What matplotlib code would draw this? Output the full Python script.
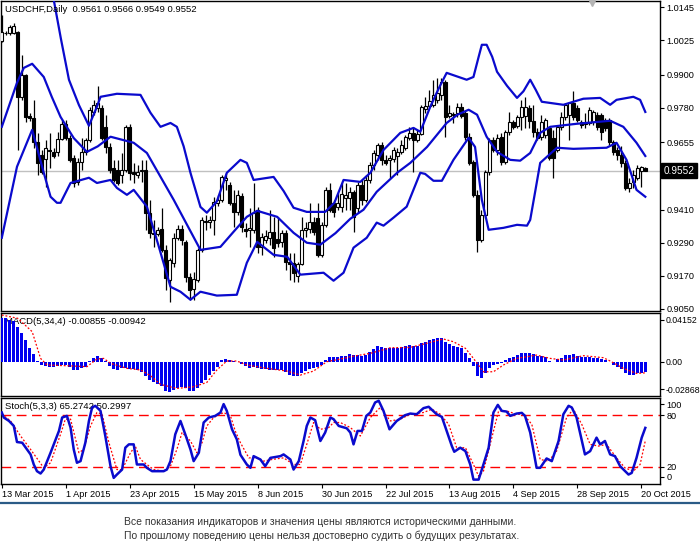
import matplotlib
matplotlib.use('Agg')
import matplotlib.pyplot as plt
import matplotlib.transforms as mtransforms
from matplotlib.lines import Line2D

plt.rcParams['font.family'] = ['Liberation Sans', 'DejaVu Sans']

# daily candles, USDCHF, 162 bars (mid Mar .. 21 Oct 2015)
opens = [1.0023, 1.0052, 1.0052, 1.0052, 1.0056, 0.9820, 0.9900, 0.9751, 0.9744, 0.9657,
         0.9609, 0.9594, 0.9627, 0.9620, 0.9620, 0.9667, 0.9721, 0.9671, 0.9598, 0.9511,
         0.9584, 0.9620, 0.9664, 0.9765, 0.9780, 0.9780, 0.9711, 0.9638, 0.9562, 0.9555,
         0.9537, 0.9555, 0.9711, 0.9548, 0.9537, 0.9551, 0.9555, 0.9399, 0.9326, 0.9322,
         0.9341, 0.9264, 0.9156, 0.9217, 0.9308, 0.9341, 0.9293, 0.9166, 0.9123, 0.9156,
         0.9264, 0.9370, 0.9366, 0.9373, 0.9435, 0.9446, 0.9518, 0.9500, 0.9435, 0.9402,
         0.9460, 0.9341, 0.9337, 0.9337, 0.9410, 0.9275, 0.9301, 0.9308, 0.9330, 0.9304,
         0.9293, 0.9326, 0.9221, 0.9217, 0.9170, 0.9213, 0.9337, 0.9341, 0.9366, 0.9381,
         0.9246, 0.9355, 0.9482, 0.9435, 0.9421, 0.9421, 0.9453, 0.9453, 0.9475, 0.9417,
         0.9500, 0.9446, 0.9518, 0.9573, 0.9609, 0.9646, 0.9591, 0.9591, 0.9594, 0.9605,
         0.9620, 0.9634, 0.9671, 0.9689, 0.9664, 0.9686, 0.9776, 0.9787, 0.9791, 0.9809,
         0.9827, 0.9875, 0.9751, 0.9758, 0.9762, 0.9784, 0.9762, 0.9675, 0.9584, 0.9464,
         0.9301, 0.9392, 0.9548, 0.9664, 0.9627, 0.9675, 0.9584, 0.9693, 0.9729, 0.9715,
         0.9747, 0.9751, 0.9780, 0.9733, 0.9693, 0.9675, 0.9682, 0.9707, 0.9671, 0.9627,
         0.9711, 0.9747, 0.9755, 0.9798, 0.9780, 0.9729, 0.9722, 0.9725, 0.9729, 0.9755,
         0.9755, 0.9736, 0.9736, 0.9657, 0.9627, 0.9609, 0.9580, 0.9489, 0.9511, 0.9526,
         0.9551, 0.9561]
highs = [1.0118, 1.0059, 1.0081, 1.0089, 1.0059, 0.9972, 0.9903, 0.9762, 0.9809, 0.9689,
         0.9627, 0.9664, 0.9689, 0.9634, 0.9693, 0.9736, 0.9736, 0.9682, 0.9609, 0.9598,
         0.9671, 0.9671, 0.9784, 0.9809, 0.9860, 0.9791, 0.9755, 0.9653, 0.9591, 0.9591,
         0.9616, 0.9718, 0.9722, 0.9580, 0.9573, 0.9591, 0.9591, 0.9446, 0.9373, 0.9348,
         0.9417, 0.9282, 0.9235, 0.9326, 0.9355, 0.9355, 0.9301, 0.9181, 0.9185, 0.9272,
         0.9384, 0.9392, 0.9388, 0.9457, 0.9464, 0.9537, 0.9544, 0.9511, 0.9482, 0.9482,
         0.9471, 0.9362, 0.9417, 0.9507, 0.9421, 0.9326, 0.9337, 0.9410, 0.9384, 0.9384,
         0.9337, 0.9337, 0.9253, 0.9253, 0.9221, 0.9384, 0.9366, 0.9435, 0.9384, 0.9435,
         0.9366, 0.9493, 0.9507, 0.9446, 0.9471, 0.9507, 0.9507, 0.9493, 0.9482, 0.9511,
         0.9518, 0.9537, 0.9584, 0.9627, 0.9653, 0.9657, 0.9609, 0.9609, 0.9638, 0.9634,
         0.9664, 0.9682, 0.9711, 0.9711, 0.9700, 0.9791, 0.9820, 0.9845, 0.9882, 0.9889,
         0.9889, 0.9882, 0.9791, 0.9765, 0.9798, 0.9798, 0.9773, 0.9689, 0.9591, 0.9482,
         0.9410, 0.9555, 0.9671, 0.9675, 0.9686, 0.9689, 0.9700, 0.9765, 0.9736, 0.9755,
         0.9809, 0.9820, 0.9791, 0.9791, 0.9707, 0.9755, 0.9744, 0.9711, 0.9700, 0.9718,
         0.9765, 0.9798, 0.9802, 0.9842, 0.9791, 0.9736, 0.9762, 0.9784, 0.9773, 0.9765,
         0.9762, 0.9744, 0.9744, 0.9664, 0.9638, 0.9642, 0.9591, 0.9526, 0.9555, 0.9573,
         0.9569, 0.9566]
lows = [1.0020, 1.0045, 1.0045, 1.0049, 0.9627, 0.9809, 0.9729, 0.9733, 0.9635, 0.9537,
        0.9540, 0.9493, 0.9562, 0.9598, 0.9605, 0.9664, 0.9664, 0.9584, 0.9493, 0.9500,
        0.9555, 0.9609, 0.9657, 0.9755, 0.9765, 0.9664, 0.9616, 0.9544, 0.9511, 0.9500,
        0.9507, 0.9548, 0.9518, 0.9507, 0.9526, 0.9511, 0.9337, 0.9308, 0.9275, 0.9315,
        0.9257, 0.9119, 0.9076, 0.9203, 0.9301, 0.9282, 0.9148, 0.9083, 0.9083, 0.9148,
        0.9257, 0.9337, 0.9344, 0.9319, 0.9424, 0.9439, 0.9482, 0.9428, 0.9348, 0.9392,
        0.9330, 0.9312, 0.9275, 0.9326, 0.9253, 0.9246, 0.9290, 0.9282, 0.9239, 0.9275,
        0.9275, 0.9192, 0.9156, 0.9148, 0.9148, 0.9210, 0.9312, 0.9326, 0.9319, 0.9239,
        0.9239, 0.9348, 0.9402, 0.9384, 0.9410, 0.9402, 0.9410, 0.9410, 0.9330, 0.9399,
        0.9428, 0.9439, 0.9507, 0.9555, 0.9591, 0.9573, 0.9573, 0.9526, 0.9584, 0.9537,
        0.9613, 0.9627, 0.9664, 0.9548, 0.9657, 0.9682, 0.9762, 0.9780, 0.9784, 0.9798,
        0.9809, 0.9675, 0.9744, 0.9725, 0.9747, 0.9744, 0.9664, 0.9573, 0.9457, 0.9257,
        0.9293, 0.9381, 0.9537, 0.9620, 0.9609, 0.9573, 0.9577, 0.9682, 0.9704, 0.9707,
        0.9700, 0.9707, 0.9707, 0.9675, 0.9664, 0.9664, 0.9671, 0.9591, 0.9526, 0.9620,
        0.9700, 0.9736, 0.9664, 0.9736, 0.9729, 0.9707, 0.9707, 0.9718, 0.9718, 0.9700,
        0.9664, 0.9696, 0.9646, 0.9609, 0.9591, 0.9566, 0.9482, 0.9475, 0.9489, 0.9518,
        0.9493, 0.9549]
closes = [1.0056, 1.0050, 1.0074, 1.0078, 0.9820, 0.9900, 0.9747, 0.9744, 0.9657, 0.9580,
          0.9548, 0.9634, 0.9624, 0.9605, 0.9667, 0.9721, 0.9671, 0.9591, 0.9507, 0.9584,
          0.9620, 0.9664, 0.9773, 0.9791, 0.9798, 0.9671, 0.9638, 0.9555, 0.9518, 0.9507,
          0.9555, 0.9711, 0.9544, 0.9540, 0.9548, 0.9555, 0.9399, 0.9326, 0.9322, 0.9337,
          0.9264, 0.9163, 0.9228, 0.9308, 0.9341, 0.9301, 0.9166, 0.9119, 0.9159, 0.9264,
          0.9373, 0.9366, 0.9373, 0.9439, 0.9446, 0.9529, 0.9526, 0.9435, 0.9402, 0.9464,
          0.9348, 0.9333, 0.9344, 0.9399, 0.9275, 0.9312, 0.9315, 0.9330, 0.9272, 0.9290,
          0.9326, 0.9221, 0.9213, 0.9181, 0.9213, 0.9337, 0.9344, 0.9366, 0.9330, 0.9246,
          0.9355, 0.9482, 0.9410, 0.9402, 0.9435, 0.9468, 0.9464, 0.9475, 0.9384, 0.9500,
          0.9446, 0.9518, 0.9573, 0.9616, 0.9646, 0.9591, 0.9580, 0.9598, 0.9627, 0.9620,
          0.9646, 0.9675, 0.9689, 0.9664, 0.9686, 0.9784, 0.9787, 0.9805, 0.9827, 0.9834,
          0.9875, 0.9747, 0.9762, 0.9755, 0.9784, 0.9751, 0.9675, 0.9580, 0.9464, 0.9301,
          0.9392, 0.9548, 0.9664, 0.9627, 0.9671, 0.9584, 0.9693, 0.9729, 0.9711, 0.9747,
          0.9784, 0.9784, 0.9733, 0.9693, 0.9671, 0.9729, 0.9736, 0.9598, 0.9598, 0.9711,
          0.9747, 0.9791, 0.9798, 0.9747, 0.9736, 0.9718, 0.9725, 0.9773, 0.9765, 0.9711,
          0.9693, 0.9707, 0.9657, 0.9620, 0.9609, 0.9580, 0.9489, 0.9507, 0.9537, 0.9562,
          0.9566, 0.9552]

# bollinger bands, read at bar positions
bb_up_x = [0, 8, 13, 14.8, 16.8, 19.3, 21.8, 23.8, 24.7, 28.8, 34.7, 37.2, 39.7, 42.2, 43.8,
           45.5, 47.2, 49.7, 51.3, 53.8, 56.3, 59.7, 61.3, 63, 68, 70.5, 73, 76.3, 80.9, 83.2,
           85.5, 89.7, 92.2, 95.5, 99.7, 103, 104.7, 107.2, 109.3, 111.3, 116.3, 118, 119.3,
           120.1, 121.3, 122.7, 123.9, 126.4, 128.9, 130.5, 132.2, 133.6, 135.1, 140.5, 145.5,
           149.7, 152.2, 153.8, 158, 159.7, 161]
bb_up = [1.0535, 1.0317, 1.0172, 1.0030, 0.9882, 0.9790, 0.9715, 0.9784, 0.9820, 0.9831, 0.9827,
         0.9762, 0.9711, 0.9725, 0.9711, 0.9640, 0.9544, 0.9420, 0.9399, 0.9440, 0.9544, 0.9591,
         0.9580, 0.9518, 0.9529, 0.9478, 0.9417, 0.9402, 0.9402, 0.9435, 0.9518, 0.9511, 0.9544,
         0.9627, 0.9689, 0.9707, 0.9693, 0.9784, 0.9850, 0.9907, 0.9882, 0.9892, 0.9965, 1.0009,
         1.0009, 0.9965, 0.9911, 0.9860, 0.9816, 0.9840, 0.9882, 0.9845, 0.9802, 0.9791, 0.9813,
         0.9816, 0.9791, 0.9809, 0.9820, 0.9809, 0.9765]
bb_mid_x = [0, 3.8, 5.5, 7.6, 10.5, 12.5, 14.7, 18, 21.3, 24, 27.2, 33, 36.3, 43, 49.7, 54.7,
            58, 61.3, 63.9, 68.9, 73, 76.3, 79.7, 83.5, 87.2, 90.5, 93.8, 98.9, 102.2, 106.4,
            111.3, 114, 116.8, 118.9, 121.3, 123.9, 127.2, 129.7, 132.2, 134.7, 137.2, 143.8,
            152.2, 155.5, 158.8, 161]
bb_mid = [0.9711, 0.9871, 0.9925, 0.9940, 0.9892, 0.9820, 0.9747, 0.9670, 0.9620, 0.9640,
          0.9675, 0.9653, 0.9616, 0.9446, 0.9264, 0.9275, 0.9330, 0.9384, 0.9406, 0.9384, 0.9326,
          0.9290, 0.9283, 0.9325, 0.9377, 0.9410, 0.9475, 0.9544, 0.9580, 0.9638, 0.9725, 0.9755,
          0.9773, 0.9755, 0.9675, 0.9620, 0.9591, 0.9588, 0.9616, 0.9689, 0.9711, 0.9722, 0.9733,
          0.9711, 0.9653, 0.9605]
bb_low_x = [0, 3.8, 7.6, 10.5, 12.2, 13.8, 14.7, 17.2, 21.8, 23.8, 27.2, 28.8, 31.3, 33, 36.3,
            39.2, 42.2, 44.7, 47.2, 49.7, 53.8, 58.8, 61.3, 63.9, 68, 71.4, 74.7, 80.5, 83,
            85.5, 88, 91.3, 93.8, 95.5, 98, 101.3, 104.7, 105.9, 108, 110.1, 113, 116.8, 118.4,
            120.1, 121.8, 125.5, 128.9, 131.4, 132.2, 133.5, 134.7, 138.9, 143, 151.3, 153.8,
            156.3, 158.8, 161]
bb_low = [0.9308, 0.9566, 0.9700, 0.9544, 0.9457, 0.9435, 0.9435, 0.9507, 0.9526, 0.9507, 0.9518,
          0.9489, 0.9464, 0.9482, 0.9421, 0.9280, 0.9130, 0.9112, 0.9083, 0.9112, 0.9098, 0.9101,
          0.9217, 0.9293, 0.9246, 0.9239, 0.9174, 0.9181, 0.9152, 0.9181, 0.9272, 0.9308, 0.9363,
          0.9352, 0.9381, 0.9421, 0.9544, 0.9540, 0.9515, 0.9515, 0.9591, 0.9671, 0.9638, 0.9446,
          0.9337, 0.9344, 0.9355, 0.9352, 0.9373, 0.9480, 0.9580, 0.9635, 0.9631, 0.9635, 0.9653,
          0.9591, 0.9482, 0.9457]

# MACD(5,34,4) histogram, one value per bar, and its signal line
macd_hist = [0.0367, 0.0367, 0.0353, 0.0344, 0.0296, 0.0240, 0.0183, 0.0118, 0.0062, 0.0006,
             -0.0028, -0.0034, -0.0048, -0.0042, -0.0037, -0.0028, -0.0028, -0.0042, -0.0073, -0.0073,
             -0.0056, -0.0042, 0.0003, 0.0028, 0.0045, 0.0034, 0.0006, -0.0034, -0.0062, -0.0070,
             -0.0056, -0.0050, -0.0062, -0.0065, -0.0073, -0.0085, -0.0121, -0.0155, -0.0175, -0.0189,
             -0.0206, -0.0248, -0.0259, -0.0240, -0.0226, -0.0212, -0.0220, -0.0248, -0.0248, -0.0220,
             -0.0183, -0.0155, -0.0113, -0.0076, -0.0042, 0.0014, 0.0023, 0.0011, 0.0006, -0.0002,
             -0.0023, -0.0034, -0.0056, -0.0045, -0.0056, -0.0062, -0.0065, -0.0070, -0.0073, -0.0070,
             -0.0073, -0.0085, -0.0113, -0.0124, -0.0124, -0.0099, -0.0079, -0.0062, -0.0051, -0.0045,
             -0.0028, 0.0014, 0.0037, 0.0037, 0.0039, 0.0051, 0.0051, 0.0062, 0.0056, 0.0056,
             0.0051, 0.0056, 0.0085, 0.0107, 0.0135, 0.0127, 0.0118, 0.0118, 0.0118, 0.0118,
             0.0127, 0.0133, 0.0141, 0.0135, 0.0130, 0.0155, 0.0169, 0.0183, 0.0189, 0.0197,
             0.0197, 0.0164, 0.0147, 0.0135, 0.0127, 0.0118, 0.0071, 0.0034, -0.0034, -0.0118,
             -0.0141, -0.0093, -0.0056, -0.0028, -0.0020, -0.0014, 0.0014, 0.0034, 0.0042, 0.0056,
             0.0076, 0.0076, 0.0071, 0.0062, 0.0051, 0.0051, 0.0042, 0.0006, -0.0003, 0.0023,
             0.0028, 0.0056, 0.0056, 0.0062, 0.0051, 0.0042, 0.0037, 0.0037, 0.0034, 0.0028,
             0.0023, 0.0014, -0.0003, -0.0028, -0.0042, -0.0062, -0.0099, -0.0113, -0.0113, -0.0099,
             -0.0099, -0.00855]
macd_sig_x = [0, 4, 7.6, 9.7, 11.3, 16.3, 21.3, 23.8, 25.5, 27.2, 31.3, 34.7, 37.2, 39.7, 43.8,
              48, 51.3, 53.8, 56.3, 58.8, 61.3, 66.3, 71.3, 74.7, 78, 81.3, 86.3, 87.2, 92.2,
              97.2, 102.2, 107.2, 110.5, 113, 116, 118, 120.5, 123, 125.5, 128.8, 133.8, 137.2,
              140.5, 145.5, 150.5, 152.2, 155.5, 158.8, 161]
macd_sig = [0.0395, 0.0367, 0.0254, 0.0028, -0.0028, -0.0034, -0.0042, 0.0023, 0.0028, -0.0014,
            -0.0056, -0.0070, -0.0118, -0.0192, -0.0226, -0.0212, -0.0175, -0.0070, 0.0006, 0.0006,
            -0.0028, -0.0056, -0.0079, -0.0113, -0.0079, 0.0000, 0.0034, 0.0042, 0.0071, 0.0118,
            0.0121, 0.0164, 0.0192, 0.0169, 0.0113, 0.0028, -0.0085, -0.0085, -0.0028, 0.0028,
            0.0056, 0.0028, 0.0014, 0.0051, 0.0034, 0.0006, -0.0056, -0.0099, -0.00942]

# Stoch(5,3,3) main and signal lines
st_main_x = [0, 0.5, 1.8, 3, 3.8, 5.1, 6.3, 7.2, 8, 8.8, 9.7, 10.5, 12.2, 14.3, 15.1, 16.3, 17.2,
             18, 18.8, 19.7, 20.9, 21.8, 22.6, 23.4, 24.7, 25.9, 27.2, 28, 28.8, 30.1, 30.9, 31.8,
             33, 33.8, 35.5, 36.3, 37.6, 40.5, 41.3, 42.2, 43.4, 44.7, 45.9, 47.2, 48, 49.3, 50.5,
             51.8, 53.4, 54.7, 55.5, 56.3, 57.6, 58.8, 59.7, 61.3, 62.2, 63, 64.7, 65.9, 67.2,
             69.7, 70.5, 72.2, 73, 74.3, 75.5, 76.3, 77.2, 78.4, 79.7, 80.9, 82.2, 83, 84.3, 86.3,
             87.2, 88, 89, 90.1, 91.2, 92.2, 93.4, 94.3, 95.5, 97, 98.8, 100.9, 102.2, 103.8,
             105.5, 106.8, 108.8, 110.1, 111.3, 112.6, 113.2, 114.7, 116, 117.2, 118, 119.3,
             120.5, 121.8, 123, 124.1, 125.1, 126.3, 127.2, 128.8, 130.1, 130.9, 132.2, 133.8,
             134.7, 136.3, 137.6, 139.3, 140.5, 141.8, 142.6, 143.8, 145.9, 147.2, 148.8, 149.7,
             150.9, 152.2, 153.4, 154.7, 156.8, 157.6, 158.8, 160.1, 161]
st_main = [83.1, 77.3, 73.3, 67.5, 48.8, 48.0, 40.2, 34.4, 22.7, 14.9, 12.2, 16.8, 36.4, 61.7, 77.3,
           79.2, 65.6, 40.2, 24.7, 26.6, 48.0, 73.3, 89.0, 90.9, 85.0, 55.8, 20.7, 7.1, 11.0, 16.8,
           42.2, 46.1, 46.1, 22.7, 22.7, 18.8, 14.9, 14.9, 16.8, 26.6, 57.8, 73.3, 57.8, 40.2, 26.6,
           36.4, 71.5, 77.3, 79.2, 83.1, 92.9, 85.0, 63.6, 51.9, 34.0, 22.7, 18.8, 32.4, 28.5, 20.7,
           30.4, 32.4, 34.4, 28.5, 16.8, 26.6, 50.0, 67.5, 77.3, 74.2, 50.0, 59.8, 77.3, 75.4, 67.5,
           64.8, 59.8, 46.1, 61.7, 61.7, 79.2, 83.1, 94.8, 96.8, 85.0, 63.6, 73.3, 80.0, 81.9, 81.1,
           88.2, 89.8, 81.1, 78.0, 61.7, 44.1, 37.5, 42.2, 38.2, 22.7, 5.1, 5.1, 22.7, 42.2, 83.1,
           92.0, 85.0, 84.2, 79.2, 81.9, 82.7, 79.2, 59.8, 18.8, 18.8, 29.7, 26.6, 50.0, 81.1, 90.9,
           89.0, 77.3, 34.4, 38.2, 53.9, 46.1, 50.0, 34.4, 32.4, 20.7, 11.0, 12.9, 30.4, 53.9, 65.27]
st_sig_x = [0, 2.2, 4.7, 7.2, 10.5, 12.2, 14.7, 15.9, 17.2, 19.3, 20.5, 22.2, 23.8, 25.1, 26.8,
            28.8, 30.1, 32.2, 33.4, 34.7, 36.3, 38, 40.5, 42.2, 43.8, 45.1, 47.2, 48.8, 50.1,
            51.3, 53, 55.5, 57.2, 58.4, 59.7, 61.8, 63.8, 65.5, 67.6, 70.5, 73, 74.7, 76.3, 78,
            79.7, 81.8, 83, 84.7, 87.2, 89.7, 92.2, 94.7, 97.2, 99.7, 102.2, 105.5, 107.6, 109.7,
            111.8, 113.8, 116, 118, 119.3, 120.5, 122.6, 124.3, 126.3, 128.8, 130.5, 132.6,
            134.7, 136.8, 138.8, 141.3, 143, 145.1, 147.2, 149.3, 151.3, 153.8, 155.9, 158,
            159.7, 161]
st_sig = [81.2, 73.3, 55.8, 40.2, 18.8, 24.7, 57.8, 75.4, 75.4, 36.4, 40.2, 67.5, 83.1, 81.2, 48.0,
          16.8, 16.8, 36.4, 44.1, 28.5, 22.7, 16.8, 14.9, 20.7, 40.2, 59.8, 50.0, 36.4, 48.0, 67.5,
          77.3, 83.1, 79.2, 61.7, 48.0, 30.4, 30.4, 26.6, 28.5, 30.4, 22.7, 22.7, 46.1, 71.5, 63.6,
          65.6, 71.5, 71.5, 65.6, 55.8, 77.3, 89.0, 73.3, 75.4, 81.1, 83.1, 87.0, 81.1, 69.4, 42.2,
          42.2, 22.7, 9.0, 14.9, 53.9, 85.0, 85.0, 81.1, 81.1, 69.4, 28.5, 26.6, 38.2, 77.3, 87.0,
          69.4, 46.1, 44.1, 46.1, 30.4, 18.8, 14.9, 22.7, 50.30]

price_ticks = [1.0145, 1.0025, 0.9900, 0.9780, 0.9655, 0.9535, 0.9410, 0.9290, 0.9170, 0.9050]
date_pos = [0, 16, 32, 48, 64, 80, 96, 112, 128, 144, 160]
date_labels = ['13 Mar 2015', '1 Apr 2015', '23 Apr 2015', '15 May 2015', '8 Jun 2015',
               '30 Jun 2015', '22 Jul 2015', '13 Aug 2015', '4 Sep 2015', '28 Sep 2015',
               '20 Oct 2015']
note_lines = ['Все показания индикаторов и значения цены являются историческими данными.',
              'По прошлому поведению цены нельзя достоверно судить о будущих результатах.']

blue = '#0a0acd'
red = '#ff0000'
fs = 6.6
W, H = 700.0, 552.0


def box(x0, y0, x1, y1):
    # pixel box -> figure fraction
    return [x0 / W, 1 - y1 / H, (x1 - x0) / W, (y1 - y0) / H]


fig = plt.figure(figsize=(7, 5.52), dpi=100)
ax_p = fig.add_axes(box(0.5, 1, 660, 311))
ax_m = fig.add_axes(box(0.5, 313, 660, 396))
ax_s = fig.add_axes(box(0.5, 398, 660, 484))

n = len(closes)
idx = list(range(n))
for ax in (ax_p, ax_m, ax_s):
    ax.set_xlim(-0.325, 164.675)
    for sp in ax.spines.values():
        sp.set_linewidth(1)
        sp.set_color('black')
    ax.yaxis.tick_right()
    ax.tick_params(axis='y', direction='out', length=3, width=0.8, pad=1.5, labelsize=fs)
    ax.tick_params(axis='x', bottom=False, labelbottom=False)

# --- price panel
ax_p.set_ylim(0.9042, 1.0168)
ax_p.set_yticks(price_ticks)
ax_p.set_yticklabels(['%.4f' % p for p in price_ticks])
ax_p.axhline(closes[-1], color='#c0c0c0', lw=1, zorder=1)

ax_p.vlines(idx, lows, highs, color='black', lw=0.9, zorder=2)
bottoms = [min(o, c) for o, c in zip(opens, closes)]
heights = [abs(c - o) for o, c in zip(opens, closes)]
faces = ['white' if c >= o else 'black' for o, c in zip(opens, closes)]
ax_p.bar(idx, heights, bottom=bottoms, width=0.72, color=faces,
         edgecolor='black', linewidth=0.8, zorder=3)

ax_p.plot(bb_up_x, bb_up, color=blue, lw=1.6, zorder=4)
ax_p.plot(bb_mid_x, bb_mid, color=blue, lw=1.6, zorder=4)
ax_p.plot(bb_low_x, bb_low, color=blue, lw=1.6, zorder=4)

ax_p.text(5 / 660, 0.974, 'USDCHF,Daily  %.4f %.4f %.4f %.4f' % (opens[-1], highs[-1], lows[-1], closes[-1]),
          transform=ax_p.transAxes, fontsize=6.8, va='center', ha='left', zorder=6)
trans_p = mtransforms.blended_transform_factory(ax_p.transAxes, ax_p.transData)
ax_p.text(1 + 4 / 660, closes[-1], '%.4f' % closes[-1], transform=trans_p, color='white',
          fontsize=7.2, va='center', ha='left', clip_on=False, zorder=8,
          bbox=dict(boxstyle='square,pad=0.25', fc='black', ec='black'))
ax_p.plot([592 / 660], [0.992], marker='v', ms=5, color='#b4b4b4',
          transform=ax_p.transAxes, clip_on=False, zorder=6)

# --- MACD panel
ax_m.set_ylim(-0.0290, 0.0412)
ax_m.text(5 / 660, 0.9, 'MACD(5,34,4) %.5f %.5f' % (macd_hist[-1], macd_sig[-1]),
          transform=ax_m.transAxes, fontsize=6.8, va='center', ha='left', zorder=1)
ax_m.bar(idx, macd_hist, width=0.72, color='#0000f0', zorder=3)
ax_m.plot(macd_sig_x, macd_sig, color=red, ls=(0, (1.5, 1.5)), lw=0.9, zorder=4)
ax_m.set_yticks([0.0353, 0.0, -0.0231])
ax_m.set_yticklabels(['0.04152', '0.00', '-0.02868'])
ax_m.tick_params(axis='y', labelsize=6.3, pad=1)

# --- Stochastic panel
ax_s.set_ylim(0, 100)
ax_s.text(5 / 660, 0.9, 'Stoch(5,3,3) %.4f %.4f' % (65.2742, 50.2997),
          transform=ax_s.transAxes, fontsize=6.8, va='center', ha='left', zorder=1)
ax_s.axhline(80, color=red, lw=1, ls=(0, (7, 4)), zorder=2)
ax_s.axhline(20, color=red, lw=1, ls=(0, (7, 4)), zorder=2)
ax_s.plot(st_sig_x, st_sig, color=red, ls=(0, (1.5, 1.5)), lw=0.9, zorder=3)
ax_s.plot(st_main_x, st_main, color=blue, lw=1.8, zorder=4)
ax_s.set_yticks([92.9, 80, 20, 8.7])
ax_s.set_yticklabels(['100', '80', '20', '0'])
ax_s.set_xticks(date_pos)
ax_s.set_xticklabels(date_labels, ha='left')
ax_s.tick_params(axis='x', bottom=True, labelbottom=True, direction='out', length=3,
                 width=0.8, pad=1.5, labelsize=6.6)

# --- footer
fig.add_artist(Line2D([0, 1], [1 - 503 / H, 1 - 503 / H], transform=fig.transFigure,
                      color='#2b5b86', lw=1.6))
fig.text(124 / W, 1 - 522 / H, note_lines[0], fontsize=7.45, color='#333333', va='center', ha='left')
fig.text(124 / W, 1 - 536 / H, note_lines[1], fontsize=7.45, color='#333333', va='center', ha='left')

fig.savefig('out.png', dpi=100)
